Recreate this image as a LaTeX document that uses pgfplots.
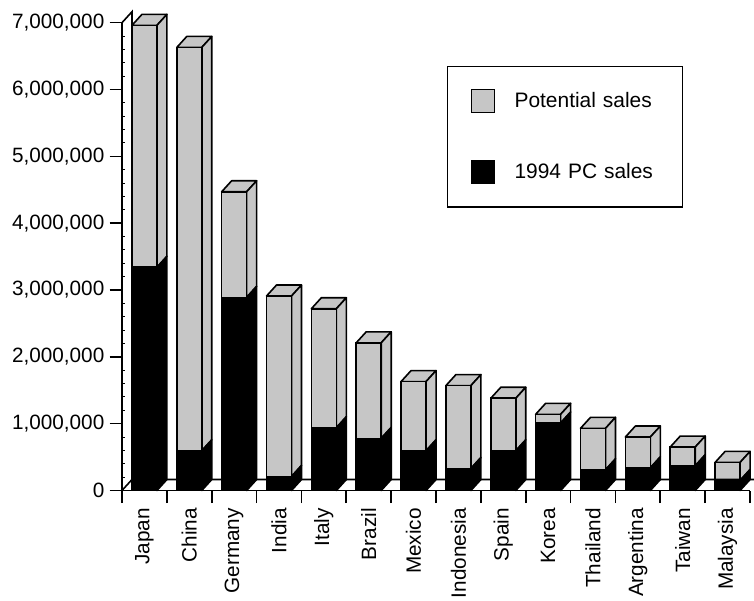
\documentclass[border=0pt]{standalone}
\usepackage{fontspec}
\setmainfont{Liberation Sans}
\usepackage{pgfplots}
\usepackage{pgfplotstable}
\pgfplotsset{compat=1.18}

\definecolor{potgray}{RGB}{198,198,198}

% PC sales in 1994 and potential sales (top of each column)
\pgfplotstableread{
country   pc       potential
Japan     3340000  6960000
China     595000   6630000
Germany   2890000  4470000
India     210000   2910000
Italy     940000   2720000
Brazil    780000   2210000
Mexico    595000   1630000
Indonesia 330000   1570000
Spain     595000   1380000
Korea     1010000  1140000
Thailand  310000   930000
Argentina 340000   800000
Taiwan    370000   650000
Malaysia  150000   420000
}\salesdata

\tikzset{depth/.style={shift={(10bp,11bp)}}}

\begin{document}
\begin{tikzpicture}
\begin{axis}[
  at={(0,0)}, anchor=south west,
  scale only axis, width=628bp, height=467.8bp,
  xmin=-0.5, xmax=13.5, ymin=0, ymax=7000000,
  clip=false,
  axis x line*=bottom, axis y line*=left,
  axis line style={line width=1.6bp, -},
  ybar stacked, bar width=0.557,
  xtick={-0.5,0.5,...,13.5},
  x tick label as interval,
  xticklabels={Japan,China,Germany,India,Italy,Brazil,Mexico,Indonesia,Spain,Korea,Thailand,Argentina,Taiwan,Malaysia},
  x tick label style={rotate=90, anchor=east, inner sep=5bp},
  ytick={0,1000000,...,7000000},
  minor y tick num=4,
  tick align=outside,
  major tick length=12.5bp,
  minor tick length=3bp,
  tick style={black, line width=1.6bp},
  minor y tick style={xshift=3bp, line width=1bp},
  scaled y ticks=false,
  y tick label style={inner sep=5bp, /pgf/number format/.cd, fixed, 1000 sep={,}, assume math mode=true},
  tick label style={font=\fontsize{20.8}{24}\selectfont},
  reverse legend,
  legend cell align=left,
  legend image code/.code={\draw[#1, line width=1bp] (0bp,-11.5bp) rectangle (23bp,11.5bp);},
  legend style={at={(0.5175,0.908)}, anchor=north west, draw=black, line width=1.2bp,
    inner xsep=23bp, inner ysep=22.8bp, row sep=47bp, column sep=20bp,
    font=\fontsize{21}{25}\selectfont, nodes={inner sep=0pt},
    /tikz/every even column/.append style={anchor=west, text width=145bp}},
]
% floor and back wall
\draw[line width=1.6bp] (axis cs:-0.5,0) -- ([depth]axis cs:-0.5,0) -- ([depth]axis cs:13.5,0);
\draw[line width=1.6bp] ([depth]axis cs:-0.5,0) -- ([depth]axis cs:-0.5,7000000) -- (axis cs:-0.5,7000000);

\addplot[fill=black, draw=black, line width=1.6bp]
  table[x expr=\coordindex, y=pc] {\salesdata};
\addlegendentry{1994 PC sales}
\addplot[fill=potgray, draw=black, line width=1.6bp]
  table[x expr=\coordindex, y expr=\thisrow{potential}-\thisrow{pc}] {\salesdata};
\addlegendentry{Potential sales}

% side and top faces of every column
\pgfplotsinvokeforeach{0,...,13}{%
  \pgfplotstablegetelem{#1}{pc}\of\salesdata \let\pcval\pgfplotsretval
  \pgfplotstablegetelem{#1}{potential}\of\salesdata \let\totval\pgfplotsretval
  \pgfmathsetmacro\xl{#1-0.2785}%
  \pgfmathsetmacro\xr{#1+0.2785}%
  \edef\prism{%
    \noexpand\filldraw[fill=black, draw=black, line width=1.6bp, line join=round]
      (axis cs:\xr,0) -- ([depth]axis cs:\xr,0) -- ([depth]axis cs:\xr,\pcval) -- (axis cs:\xr,\pcval) -- cycle;
    \noexpand\filldraw[fill=potgray, draw=black, line width=1.6bp, line join=round]
      (axis cs:\xr,\pcval) -- ([depth]axis cs:\xr,\pcval) -- ([depth]axis cs:\xr,\totval) -- (axis cs:\xr,\totval) -- cycle;
    \noexpand\filldraw[fill=potgray, draw=black, line width=1.6bp, line join=round]
      (axis cs:\xl,\totval) -- ([depth]axis cs:\xl,\totval) -- ([depth]axis cs:\xr,\totval) -- (axis cs:\xr,\totval) -- cycle;
  }%
  \prism
}
\end{axis}
\pgfresetboundingbox
\path[use as bounding box] (-122bp,-110.5bp) rectangle (632bp,490.5bp);
\end{tikzpicture}
\end{document}
